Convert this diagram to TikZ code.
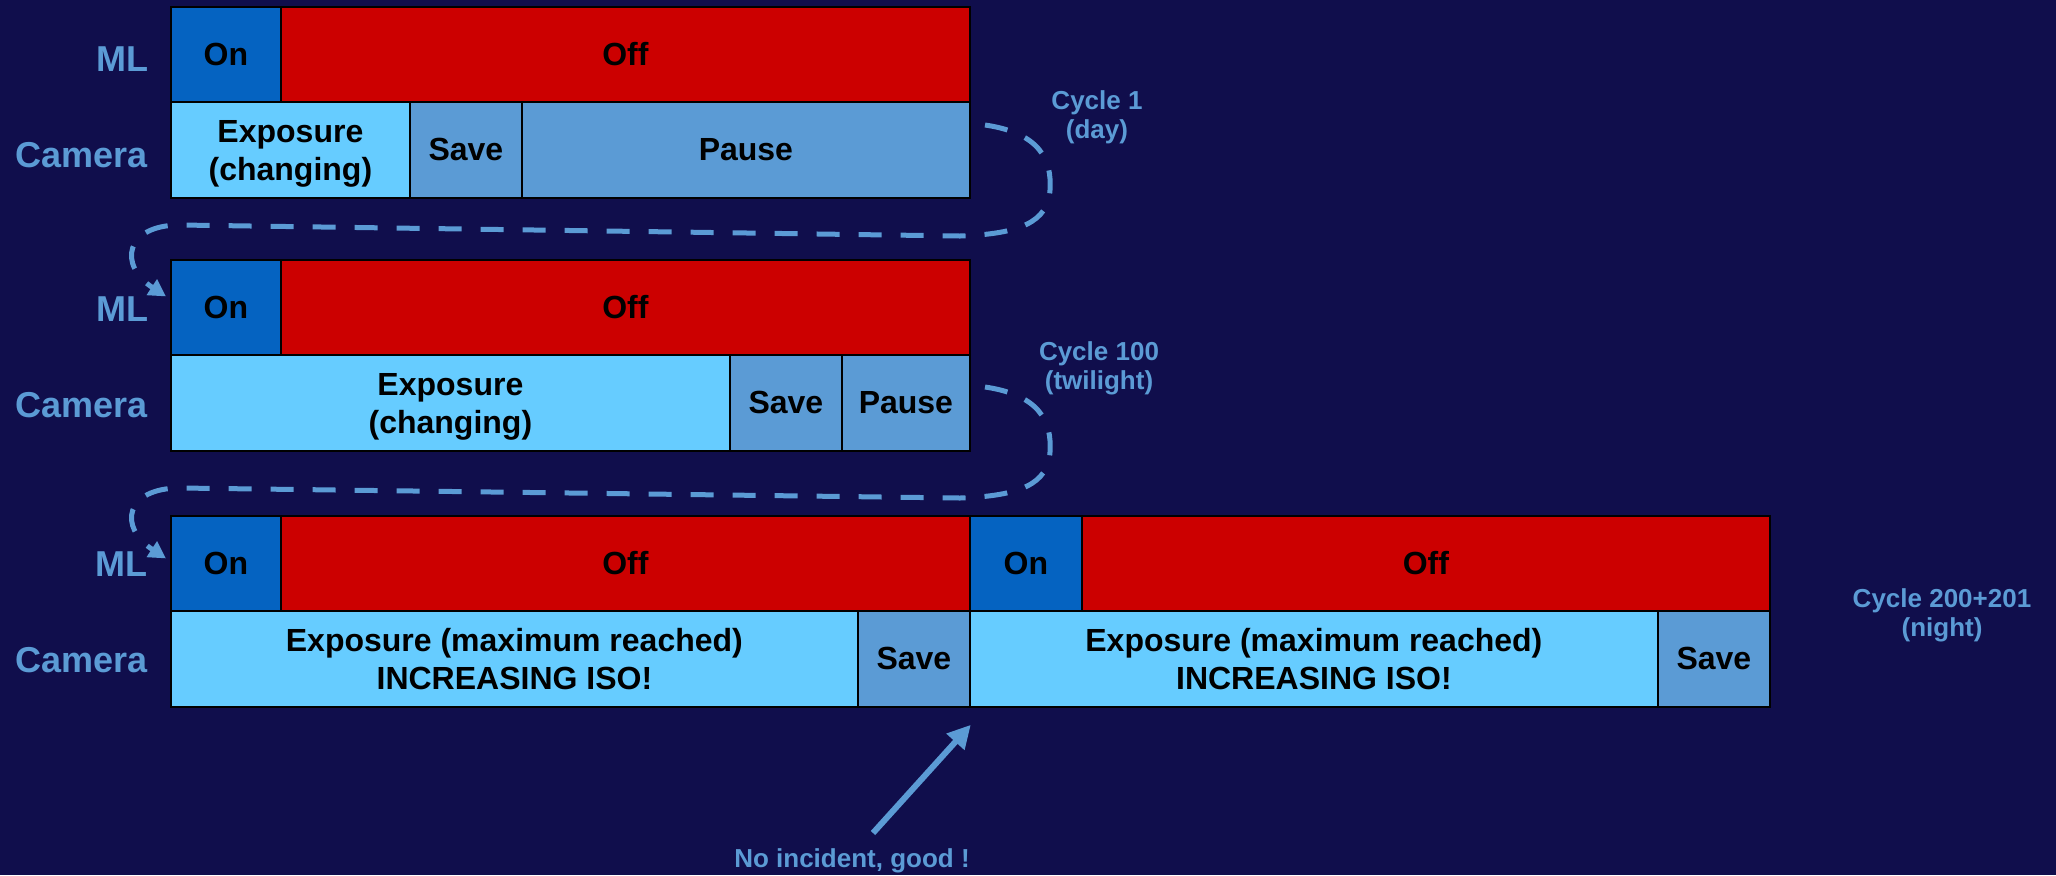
\documentclass[tikz,border=0pt]{standalone}
\usepackage{fontspec}
\setmainfont{Liberation Sans}
\usetikzlibrary{arrows.meta}

\definecolor{bg}{RGB}{16,14,76}
\definecolor{mlon}{RGB}{5,99,193}
\definecolor{mloff}{RGB}{204,0,0}
\definecolor{expo}{RGB}{102,204,255}
\definecolor{idle}{RGB}{91,155,213}
\definecolor{note}{RGB}{91,155,213}

% one timeline segment: name, x-left, x-right, y-top, y-bottom, fill, text
\newcommand\tlseg[7]{%
  \node[seg, fill=#6, minimum width={(#3-#2)*0.5pt}, minimum height={(#5-#4)*0.5pt}] (#1) at (#2,#4) {#7};}
% two centred lines, set a little below the middle of their box
\newcommand\twolines[2]{\raisebox{-2.2pt}[\height][\depth]{\begin{tabular}{@{}c@{}}#1\\[0.5pt]#2\end{tabular}}}

\tikzset{
  seg/.style={draw=black, line width=0.9pt, inner sep=0pt, anchor=north west,
              align=center, text=black, font=\fontsize{16}{18.5}\selectfont\bfseries},
  rowlabel/.style={anchor=east, inner sep=0pt, text=note, font=\fontsize{18}{20}\selectfont\bfseries},
  cyclelabel/.style={align=center, inner sep=0pt, text=note, font=\fontsize{13}{14.5}\selectfont\bfseries},
  loopline/.style={draw=idle, line width=2.5pt, dash pattern=on 11.5pt off 9.5pt,
                   -{Triangle[length=8.5pt,width=9pt]}},
  pointer/.style={draw=idle, line width=3pt, -{Triangle[length=11.5pt,width=11.5pt]}},
}

\begin{document}
\begin{tikzpicture}[x=0.5pt, y=-0.5pt]
  \useasboundingbox (0,0) rectangle (2056,875);
  \fill[bg] (0,0) rectangle (2056,875);

  % cycle 1 (day)
  \tlseg{r1on}{170}{280}{6}{101}{mlon}{On}
  \tlseg{r1off}{280}{969}{6}{101}{mloff}{Off}
  \tlseg{r1exp}{170}{409}{101}{197}{expo}{\twolines{Exposure}{(changing)}}
  \tlseg{r1save}{409}{521}{101}{197}{idle}{Save}
  \tlseg{r1pause}{521}{969}{101}{197}{idle}{Pause}
  \node[rowlabel] (r1ml) at (149,59) {ML};
  \node[rowlabel] (r1cam) at (148,155) {Camera};

  % cycle 100 (twilight)
  \tlseg{r2on}{170}{280}{259}{354}{mlon}{On}
  \tlseg{r2off}{280}{969}{259}{354}{mloff}{Off}
  \tlseg{r2exp}{170}{729}{354}{450}{expo}{\twolines{Exposure}{(changing)}}
  \tlseg{r2save}{729}{841}{354}{450}{idle}{Save}
  \tlseg{r2pause}{841}{969}{354}{450}{idle}{Pause}
  \node[rowlabel] (r2ml) at (149,309) {ML};
  \node[rowlabel] (r2cam) at (148,405) {Camera};

  % cycles 200 and 201 (night)
  \tlseg{r3ona}{170}{280}{515}{610}{mlon}{On}
  \tlseg{r3offa}{280}{969}{515}{610}{mloff}{Off}
  \tlseg{r3onb}{969}{1081}{515}{610}{mlon}{On}
  \tlseg{r3offb}{1081}{1769}{515}{610}{mloff}{Off}
  \tlseg{r3expa}{170}{857}{610}{706}{expo}{\twolines{Exposure (maximum reached)}{INCREASING ISO!}}
  \tlseg{r3savea}{857}{969}{610}{706}{idle}{Save}
  \tlseg{r3expb}{969}{1657}{610}{706}{expo}{\twolines{Exposure (maximum reached)}{INCREASING ISO!}}
  \tlseg{r3saveb}{1657}{1769}{610}{706}{idle}{Save}
  \node[rowlabel] (r3ml) at (148,564) {ML};
  \node[rowlabel] (r3cam) at (148,660) {Camera};

  % cycle captions
  \node[cyclelabel] (cap1) at (1097,117) {Cycle 1\\(day)};
  \node[cyclelabel] (cap2) at (1099,368) {Cycle 100\\(twilight)};
  \node[cyclelabel] (cap3) at (1942,615) {Cycle 200+201\\(night)};

  % loops leading from one cycle to the next
  \coordinate (loop1) at (985,125);
  \draw[loopline] (loop1) .. controls (1040,133) and (1052,160) .. (1050,190)
    .. controls (1048,222) and (1020,234) .. (960,236) -- (180,225)
    .. controls (125,225) and (118,265) .. ([xshift=-2pt,yshift=5.5pt]r2on.west);

  \coordinate (loop2) at (985,387);
  \draw[loopline] (loop2) .. controls (1040,395) and (1052,422) .. (1050,452)
    .. controls (1048,484) and (1020,496) .. (960,498) -- (180,488)
    .. controls (125,488) and (118,527) .. ([xshift=-2pt,yshift=2.5pt]r3ona.west);

  % note under the night cycles
  \node[cyclelabel] (note) at (852,861) {No incident, good !};
  \coordinate (tail) at (873,833);
  \draw[pointer] (tail) -- ([yshift=-8.5pt]r3savea.south east);
\end{tikzpicture}
\end{document}
